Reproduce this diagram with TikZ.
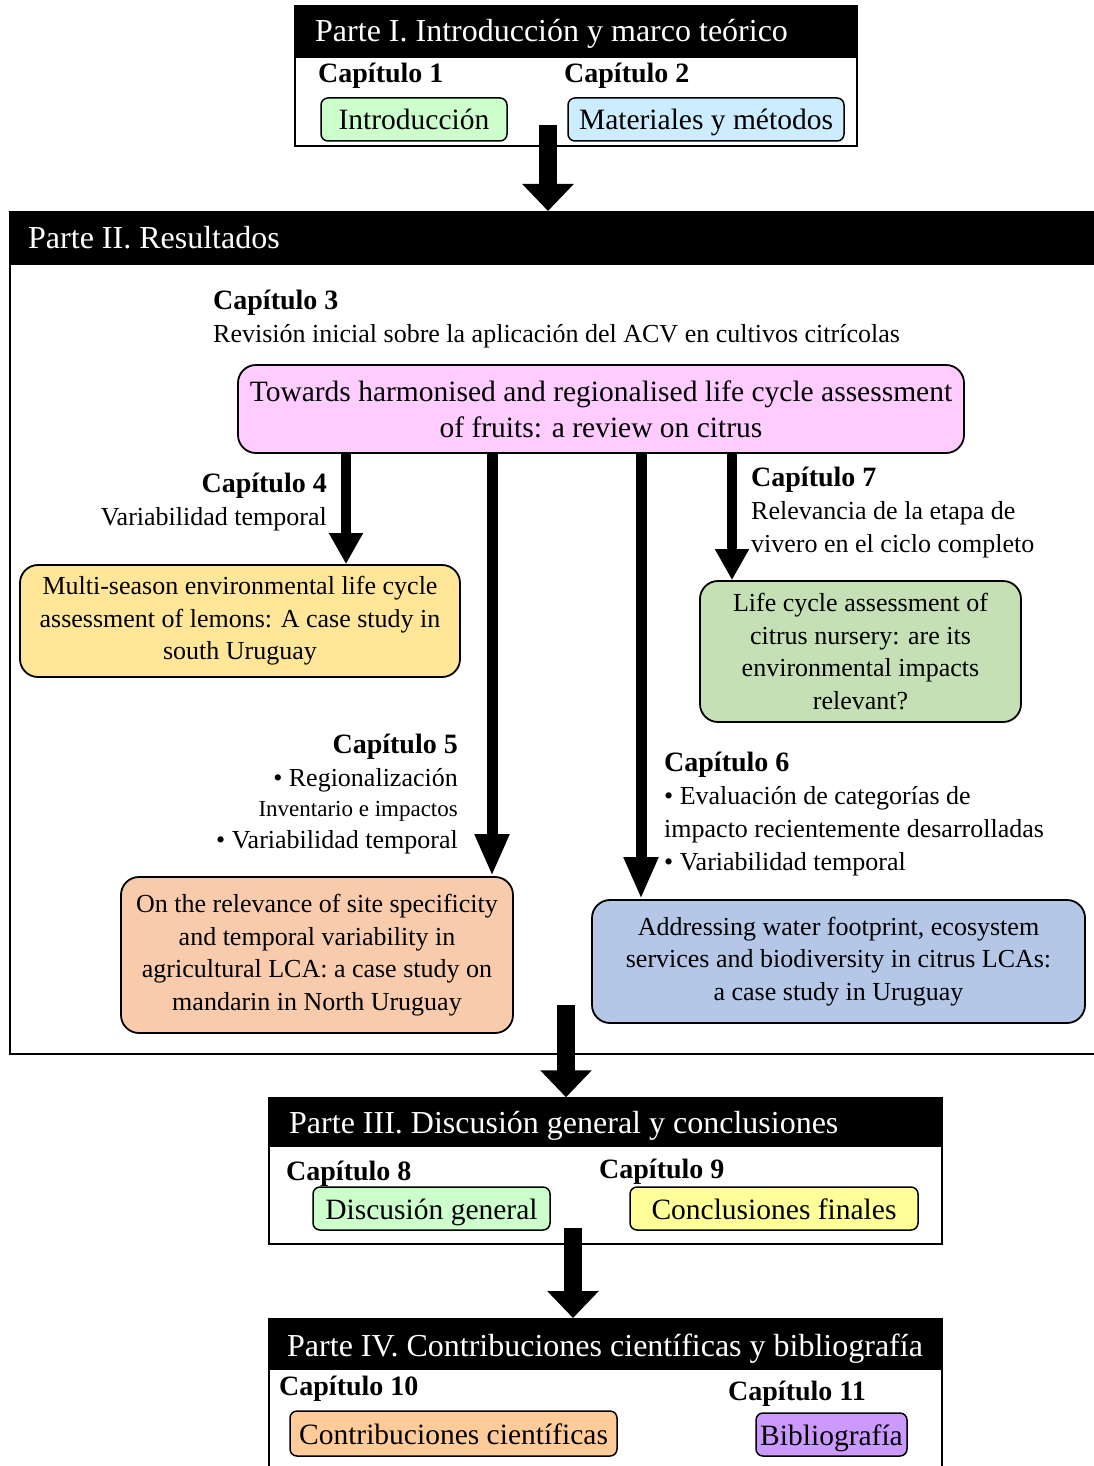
\documentclass[tikz,border=0pt]{standalone}
\usepackage{fontspec}
\setmainfont{Liberation Serif}
\usetikzlibrary{arrows.meta}
\definecolor{cIntro}{HTML}{CCFFCC}
\definecolor{cMat}{HTML}{CCECFF}
\definecolor{cPink}{HTML}{FFCCFF}
\definecolor{cYel}{HTML}{FFE699}
\definecolor{cGreen}{HTML}{C5E0B4}
\definecolor{cOrange}{HTML}{F8CBAD}
\definecolor{cBlue}{HTML}{B4C7E7}
\definecolor{cConc}{HTML}{FFFF99}
\definecolor{cContrib}{HTML}{FFCC99}
\definecolor{cBib}{HTML}{CC99FF}
\newcommand{\capit}{Capítulo}
\tikzset{
  partframe/.style={draw=black, line width=1.5pt, inner sep=0, fill=white},
  hdr/.style={fill=black, draw=black, line width=1.5pt, inner sep=0},
  hdrtxt/.style={text=white, anchor=west, inner sep=0, font=\fontsize{32}{34}\selectfont},
  chap/.style={inner sep=0, font=\bfseries\fontsize{28}{30}\selectfont},
  rbox/.style={draw=black, line width=1.5pt, rounded corners=7pt, inner sep=0, text height=24pt, text depth=3pt, font=\fontsize{29.5}{31}\selectfont},
  bigbox/.style={draw=black, line width=1.8pt, rounded corners=18pt, align=center, inner sep=0, font=\fontsize{26}{32.5}\selectfont},
  desc/.style={inner sep=0, font=\fontsize{26}{33}\selectfont},
  bigarrow/.style={line width=18pt, -{Triangle[width=50pt,length=27pt]}},
  midarrow/.style={line width=11pt, -{Triangle[width=32pt,length=42pt]}},
  smallarrow/.style={line width=10pt, -{Triangle[width=32pt,length=31pt]}},
}
\begin{document}
\begin{tikzpicture}[x=1pt,y=-1pt]
\useasboundingbox (0,0) rectangle (1094,1466);
\clip (0,0) rectangle (1094,1466);
\fill[white] (0,0) rectangle (1094,1466);

% ---------- Parte I
\node[partframe, minimum width=562, minimum height=140] (p1) at (576,76) {};
\node[hdr, minimum width=562, minimum height=51] (h1) at (576,31.5) {};
\node[hdrtxt] (h1t) at (315,34) {Parte I. Introducción y marco teórico};
\node[chap, anchor=west] (c1) at (318,76) {\capit{} 1};
\node[chap, anchor=west] (c2) at (564,76) {\capit{} 2};
\node[rbox, fill=cIntro, minimum width=186, minimum height=43] (intro) at (414,119.5) {Introducción};
\node[rbox, fill=cMat, minimum width=276, minimum height=43] (mat) at (706,119.5) {Materiales y métodos};

% ---------- Parte II
\node[partframe, minimum width=1100, minimum height=842, anchor=north west] (p2) at (9,211) {};
\node[hdr, minimum width=1100, minimum height=52, anchor=north west] (h2) at (9,211) {};
\node[hdrtxt] (h2t) at (28,238) {Parte II. Resultados};

\coordinate (a1s) at (548,125);
\draw[bigarrow] (a1s) -- (a1s |- p2.north);

\node[chap, anchor=west] (c3) at (213,303) {\capit{} 3};
\node[desc, anchor=west] (d3) at (213,336) {Revisión inicial sobre la aplicación del ACV en cultivos citrícolas};
\node[bigbox, fill=cPink, minimum width=726, minimum height=88, font=\fontsize{29.5}{36}\selectfont] (pink) at (601,409)
  {Towards harmonised and regionalised life cycle assessment\\of fruits: a review on citrus};

\node[chap, anchor=east] (c4) at (327,486) {\capit{} 4};
\node[desc, anchor=east] (d4) at (327,519) {Variabilidad temporal};
\node[bigbox, fill=cYel, minimum width=440, minimum height=112] (yel) at (240,621)
  {Multi-season environmental life cycle\\assessment of lemons: A case study in\\south Uruguay};

\node[chap, anchor=west] (c7) at (751,480) {\capit{} 7};
\node[desc, anchor=west, align=left] (d7) at (751,529.5) {Relevancia de la etapa de\\vivero en el ciclo completo};
\node[bigbox, fill=cGreen, minimum width=321, minimum height=141] (grn) at (860.5,651.5)
  {Life cycle assessment of\\citrus nursery: are its\\environmental impacts\\relevant?};

\node[chap, anchor=east] (c5) at (458,747) {\capit{} 5};
\node[desc, anchor=east] (d5a) at (458,780) {• Regionalización};
\node[desc, anchor=east, font=\fontsize{23}{24}\selectfont] (d5b) at (458,811) {Inventario e impactos};
\node[desc, anchor=east] (d5c) at (458,842) {• Variabilidad temporal};
\node[bigbox, fill=cOrange, minimum width=392, minimum height=156] (org) at (317,955)
  {On the relevance of site specificity\\and temporal variability in\\agricultural LCA: a case study on\\mandarin in North Uruguay};

\node[chap, anchor=west] (c6) at (664,765) {\capit{} 6};
\node[desc, anchor=west, align=left] (d6) at (664,831) {• Evaluación de categorías de\\impacto recientemente desarrolladas\\• Variabilidad temporal};
\node[bigbox, fill=cBlue, minimum width=493, minimum height=123] (blu) at (838.5,961.5)
  {Addressing water footprint, ecosystem\\services and biodiversity in citrus LCAs:\\a case study in Uruguay};

\draw[smallarrow] ([xshift=-255pt]pink.south) -- ([xshift=-255pt]pink.south |- yel.north);
\draw[midarrow] ([xshift=-109pt]pink.south) -- ([xshift=-109pt]pink.south |- org.north);
\draw[midarrow] ([xshift=40pt]pink.south) -- ([xshift=40pt]pink.south |- blu.north);
\draw[smallarrow] ([xshift=131pt]pink.south) -- ([xshift=131pt]pink.south |- grn.north);

% ---------- Parte III
\node[partframe, minimum width=673, minimum height=146] (p3) at (605.5,1171) {};
\node[hdr, minimum width=673, minimum height=48] (h3) at (605.5,1122) {};
\node[hdrtxt] (h3t) at (289,1126) {Parte III. Discusión general y conclusiones};
\node[rbox, fill=cIntro, minimum width=237, minimum height=43] (disc) at (431.5,1208.5) {Discusión general};
\node[rbox, fill=cConc, minimum width=288, minimum height=43] (conc) at (774,1208.5) {Conclusiones finales};
\node[chap, anchor=west] (c8) at (286,1174) {\capit{} 8};
\node[chap, anchor=west] (c9) at (599,1172) {\capit{} 9};

\coordinate (a2s) at (566,1005);
\draw[bigarrow] (a2s) -- (a2s |- p3.north);

% ---------- Parte IV
\node[partframe, minimum width=673, minimum height=160, anchor=north] (p4) at (605.5,1318) {};
\node[hdr, minimum width=673, minimum height=50, anchor=north] (h4) at (605.5,1318) {};
\node[hdrtxt] (h4t) at (287,1349) {Parte IV. Contribuciones científicas y bibliografía};
\node[chap, anchor=west] (c10) at (279,1389) {\capit{} 10};
\node[chap, anchor=west] (c11) at (728,1394) {\capit{} 11};
\node[rbox, fill=cContrib, minimum width=327, minimum height=45] (contrib) at (453.5,1433.5) {Contribuciones científicas};
\node[rbox, fill=cBib, minimum width=151, minimum height=43] (bib) at (831.5,1434.5) {Bibliografía};

\coordinate (a3s) at (573,1228);
\draw[bigarrow] (a3s) -- (a3s |- p4.north);
\end{tikzpicture}
\end{document}
